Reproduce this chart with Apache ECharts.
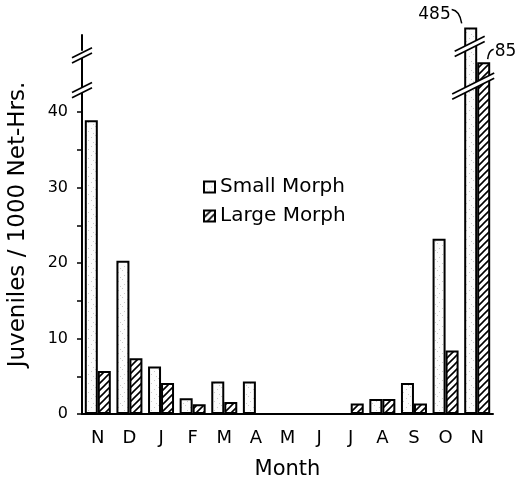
<!DOCTYPE html>
<html><head><meta charset="utf-8">
<script src="https://cdn.jsdelivr.net/npm/echarts@6/dist/echarts.min.js"></script>
<style>html,body{margin:0;padding:0;background:#fff}#c{width:523px;height:480px}</style>
</head><body><div id="c"></div>
<script>
const months = ['N','D','J','F','M','A','M','J','J','A','S','O','N'];
const smallMorph = [38.9, 20.3, 6.3, 2.1, 4.3, 4.3, 0, 0, 0, 2.0, 4.1, 23.2, 485];
const largeMorph = [5.7, 7.4, 4.1, 1.3, 1.6, 0, 0, 0, 1.4, 2.0, 1.4, 8.4, 85];
const yTickLabels = [0, 10, 20, 30, 40];
const yTicks = [0, 5, 10, 15, 20, 25, 30, 35, 40];
const yBreaks = [[42.5, 81.7, 0.8], [86, 482, 0.6]];
const annotations = ['485', '85'];

function hatchCanvas(){
  const s = 7, c = document.createElement('canvas'); c.width = s; c.height = s;
  const g = c.getContext('2d');
  g.fillStyle = '#fff'; g.fillRect(0,0,s,s);
  g.strokeStyle = '#000'; g.lineWidth = 1.6; g.beginPath();
  g.moveTo(0,s); g.lineTo(s,0);
  g.moveTo(-2,2); g.lineTo(2,-2);
  g.moveTo(s-2,s+2); g.lineTo(s+2,s-2);
  g.stroke();
  return c;
}
function stippleCanvas(){
  const s = 9, c = document.createElement('canvas'); c.width = s; c.height = s;
  const g = c.getContext('2d');
  g.fillStyle = '#fcfcfc'; g.fillRect(0,0,s,s);
  g.fillStyle = 'rgba(0,0,0,0.2)';
  [[1,2],[5,0],[7,5],[3,7]].forEach(p => g.fillRect(p[0],p[1],1,1));
  return c;
}

const chart = echarts.init(document.getElementById('c'), null, {renderer:'canvas'});
const black = '#000';
const option = {
  animation: false,
  textStyle: {fontFamily: 'DejaVu Sans', color: black},
  grid: {left: 82, right: 30, top: 35, bottom: 66, outerBoundsMode: 'none', containLabel: false},
  legend: {
    orient: 'vertical', left: 198, top: 172, itemWidth: 11, itemHeight: 11, itemGap: 9,
    icon: 'rect', textStyle: {fontSize: 20, color: black, fontFamily: 'DejaVu Sans'},
    data: ['Small Morph', 'Large Morph']
  },
  xAxis: {
    type: 'category', data: months,
    axisLine: {lineStyle: {color: black, width: 2}},
    axisTick: {length: 5, lineStyle: {color: black, width: 1.5}},
    axisLabel: {fontSize: 18, color: black, margin: 15},
    name: 'Month', nameLocation: 'middle', nameGap: 45,
    nameTextStyle: {fontSize: 21, color: black}
  },
  yAxis: {
    type: 'value', min: 0, max: 484,
    breaks: yBreaks.map(b => ({start: b[0], end: b[1], gap: b[2]})),
    breakArea: {show: false},
    splitLine: {show: false},
    axisLine: {show: true, lineStyle: {color: black, width: 2}},
    axisTick: {show: true, length: 5, customValues: yTicks, lineStyle: {color: black, width: 1.5}},
    axisLabel: {customValues: yTickLabels, fontSize: 16, color: black, margin: 14},
    name: 'Juveniles / 1000 Net-Hrs.', nameLocation: 'middle', nameGap: 52,
    nameTextStyle: {fontSize: 23, color: black}
  },
  series: [
    {name: 'Small Morph', type: 'bar', data: smallMorph, barWidth: 13, barGap: '0%', clip: false,
     itemStyle: {color: {image: stippleCanvas(), repeat: 'repeat'}, borderColor: black, borderWidth: 2}},
    {name: 'Large Morph', type: 'bar', data: largeMorph, barWidth: 13, barGap: '0%', clip: false,
     itemStyle: {color: {image: hatchCanvas(), repeat: 'repeat'}, borderColor: black, borderWidth: 2}}
  ]
};
chart.setOption(option);

// overlay: break marks and value annotations, positioned via the chart's scales
const last = months.length - 1;
const graphics = [];
function breakMark(cx, cy, hw){
  const sl = 0.5, d = 2.6;
  const a1 = [cx - hw, cy + hw*sl - d], b1 = [cx + hw, cy - hw*sl - d];
  const a2 = [cx - hw, cy + hw*sl + d], b2 = [cx + hw, cy - hw*sl + d];
  graphics.push({type: 'polygon', z: 100, shape: {points: [a1, b1, b2, a2]}, style: {fill: '#fff', stroke: null}});
  graphics.push({type: 'line', z: 101, shape: {x1: a1[0], y1: a1[1], x2: b1[0], y2: b1[1]}, style: {stroke: black, lineWidth: 1.6}});
  graphics.push({type: 'line', z: 101, shape: {x1: a2[0], y1: a2[1], x2: b2[0], y2: b2[1]}, style: {stroke: black, lineWidth: 1.6}});
}
const x0 = chart.convertToPixel({xAxisIndex: 0}, 0);
const catW = chart.convertToPixel({xAxisIndex: 0}, 1) - x0;
const yAxisLeft = x0 - catW / 2;
const breakY = yBreaks.map(b => (chart.convertToPixel({yAxisIndex: 0}, b[0]) + chart.convertToPixel({yAxisIndex: 0}, b[1])) / 2);
const cN = chart.convertToPixel({xAxisIndex: 0}, last);
const smallX = cN - 6.5, largeX = cN + 6.5;
breakMark(yAxisLeft, breakY[0], 10);
breakMark(yAxisLeft, breakY[1] + 3, 10);
breakMark(cN - 4, breakY[0] - 4, 21);
breakMark(smallX - 1, breakY[1] - 6, 15);

const sTop = chart.convertToPixel({yAxisIndex: 0}, smallMorph[last]);
const lTop = chart.convertToPixel({yAxisIndex: 0}, largeMorph[last]);
graphics.push({type: 'text', z: 102, style: {text: annotations[0], x: smallX - 20, y: sTop - 13, align: 'right', verticalAlign: 'middle', font: '17px "DejaVu Sans"', fill: black}});
graphics.push({type: 'bezierCurve', z: 102, shape: {x1: smallX - 19, y1: sTop - 18, cpx1: smallX - 11, cpy1: sTop - 17, x2: smallX - 9, y2: sTop - 4}, style: {stroke: black, lineWidth: 1.5, fill: null}});
graphics.push({type: 'text', z: 102, style: {text: annotations[1], x: largeX + 11, y: lTop - 11, align: 'left', verticalAlign: 'middle', font: '17px "DejaVu Sans"', fill: black}});
graphics.push({type: 'bezierCurve', z: 102, shape: {x1: largeX + 10, y1: lTop - 13, cpx1: largeX + 5, cpy1: lTop - 12, x2: largeX + 4, y2: lTop - 3}, style: {stroke: black, lineWidth: 1.5, fill: null}});
chart.setOption({graphic: graphics});
</script></body></html>
